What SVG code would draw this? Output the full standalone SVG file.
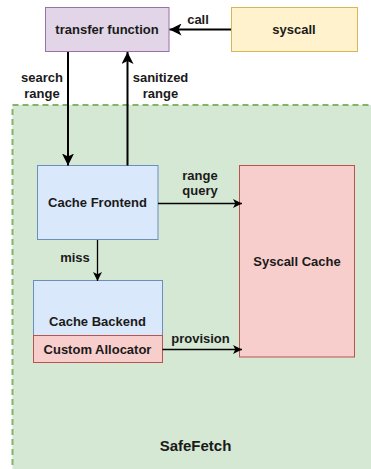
<svg xmlns="http://www.w3.org/2000/svg" width="371" height="469" viewBox="0 0 371 469">
<style>
text{font-family:"Liberation Sans",Arial,sans-serif;font-weight:bold;font-size:13px;fill:#1a1a1a;text-anchor:middle;dominant-baseline:central}
.e{stroke:#000;fill:none}
.thick{stroke-width:2}
.thin{stroke-width:1.3}
</style>
<defs>
<marker id="ab" markerUnits="userSpaceOnUse" viewBox="0 0 12 12" refX="12" refY="6" markerWidth="12" markerHeight="12" orient="auto"><path d="M0,0 L12,6 L0,12 L3,6 Z" fill="#000"/></marker>
<marker id="as" markerUnits="userSpaceOnUse" viewBox="0 0 9 9" refX="9" refY="4.5" markerWidth="9" markerHeight="9" orient="auto"><path d="M0,0 L9,4.5 L0,9 L2.3,4.5 Z" fill="#000"/></marker>
</defs>
<g id="safefetch">
<rect x="12.5" y="105" width="370" height="380" fill="#d5e8d4" stroke="#82b366" stroke-width="2" stroke-dasharray="6 4"/>
<text x="195.5" y="445" style="font-size:15px">SafeFetch</text>
</g>
<g id="transfer">
<rect x="45.5" y="7.5" width="123.5" height="44" fill="#e1d5e7" stroke="#9673a6"/>
<text x="107" y="29.5">transfer function</text>
</g>
<g id="syscall">
<rect x="231.5" y="7.5" width="126" height="44" fill="#fff2cc" stroke="#d6b656"/>
<text x="294" y="29.5">syscall</text>
</g>
<g id="frontend">
<rect x="37.5" y="165.5" width="120.5" height="74" fill="#dae8fc" stroke="#6c8ebf"/>
<text x="97.5" y="202.5">Cache Frontend</text>
</g>
<g id="syscallcache">
<rect x="239.5" y="165.5" width="115" height="191.5" fill="#f8cecc" stroke="#b85450"/>
<text x="297" y="261.5">Syscall Cache</text>
</g>
<g id="backend">
<rect x="33.5" y="280.5" width="129" height="55" fill="#dae8fc" stroke="#6c8ebf"/>
<text x="97.5" y="321.5">Cache Backend</text>
</g>
<g id="allocator">
<rect x="33.5" y="335.5" width="129" height="27" fill="#f8cecc" stroke="#b85450"/>
<text x="97.5" y="349">Custom Allocator</text>
</g>
<g id="connectors">
<line class="e thick" x1="231" y1="29.5" x2="169.5" y2="29.5" marker-end="url(#ab)"/>
<text x="198" y="19">call</text>
<line class="e thick" x1="68" y1="52" x2="68" y2="165.5" marker-end="url(#ab)"/>
<text x="42" y="77">search</text>
<text x="42" y="93">range</text>
<line class="e thick" x1="127.5" y1="165.5" x2="127.5" y2="52" marker-end="url(#ab)"/>
<text x="160.5" y="77">sanitized</text>
<text x="160.5" y="93">range</text>
<line class="e thin" x1="158" y1="203.5" x2="242" y2="203.5" marker-end="url(#as)"/>
<text x="200" y="175">range</text>
<text x="200" y="190.5">query</text>
<line class="e thin" x1="97.5" y1="240" x2="97.5" y2="281" marker-end="url(#as)"/>
<text x="75" y="257">miss</text>
<line class="e thin" x1="162.5" y1="349.5" x2="242" y2="349.5" marker-end="url(#as)"/>
<text x="200.5" y="338.5">provision</text>
</g>
</svg>
